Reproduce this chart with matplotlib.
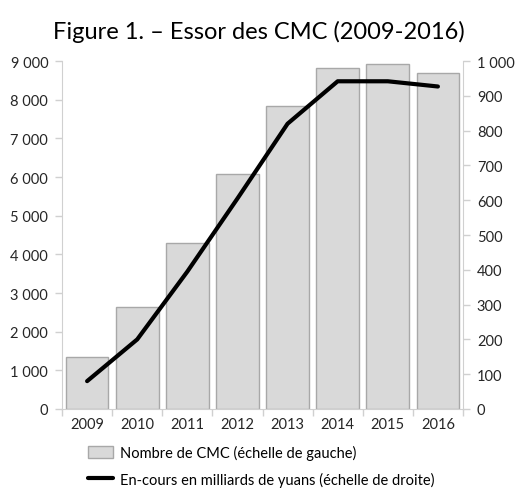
import numpy as np
import matplotlib.pyplot as plt
from matplotlib.ticker import FuncFormatter

plt.rcParams['font.family'] = ['Lato', 'DejaVu Sans']

# Données
annees = ['2009', '2010', '2011', '2012', '2013', '2014', '2015', '2016']
nombre_cmc = [1340, 2630, 4290, 6090, 7840, 8810, 8930, 8680]
encours = [80, 200, 395, 605, 820, 942, 942, 927]

gris_axe = '#d0d0d0'
x = np.arange(len(annees))

fig = plt.figure(figsize=(5.17, 4.89), dpi=100)
ax = fig.add_axes([0.12, 0.1616, 0.7755, 0.7114])
ax2 = ax.twinx()

barres = ax.bar(x, nombre_cmc, width=0.85, color='#d9d9d9', edgecolor='#a8a8a8',
                linewidth=1.0, label='Nombre de CMC (échelle de gauche)')
ligne, = ax2.plot(x, encours, color='black', lw=3, solid_capstyle='round',
                  label='En-cours en milliards de yuans (échelle de droite)')

ax.set_xlim(-0.5, len(annees) - 0.5)
ax.set_ylim(0, 9000)
ax2.set_ylim(0, 1000)
ax.set_yticks(np.arange(0, 9001, 1000))
ax2.set_yticks(np.arange(0, 1001, 100))

espace = lambda v, pos: f"{int(v):,}".replace(',', ' ')
ax.yaxis.set_major_formatter(FuncFormatter(espace))
ax2.yaxis.set_major_formatter(FuncFormatter(espace))

# axe x : graduations entre les catégories
ax.set_xticks(x)
ax.set_xticklabels(annees)
ax.set_xticks(np.arange(-0.5, len(annees)), minor=True)
ax.tick_params(axis='x', which='major', length=0, pad=6)
ax.tick_params(axis='x', which='minor', length=5, color=gris_axe, width=1)

for a in (ax, ax2):
    for s in a.spines.values():
        s.set_visible(False)
    a.tick_params(axis='y', length=5, color=gris_axe, width=1, labelsize=10.5,
                  labelcolor='#262626', pad=5)
ax.tick_params(axis='x', labelsize=10.5, labelcolor='#262626')
ax.spines['left'].set_visible(True)
ax.spines['left'].set_color(gris_axe)
ax.spines['bottom'].set_visible(True)
ax.spines['bottom'].set_color(gris_axe)
ax2.spines['right'].set_visible(True)
ax2.spines['right'].set_color(gris_axe)

fig.text(0.5, 0.935, 'Figure 1. – Essor des CMC (2009-2016)', fontsize=17,
         ha='center', va='center')

fig.legend(handles=[barres, ligne], loc='upper left', bbox_to_anchor=(0.17, 0.088),
           frameon=False, fontsize=10.5, handlelength=1.7, handleheight=0.8,
           labelspacing=0.8, handletextpad=0.5, borderaxespad=0, borderpad=0)

fig.savefig('out.png', dpi=100)
